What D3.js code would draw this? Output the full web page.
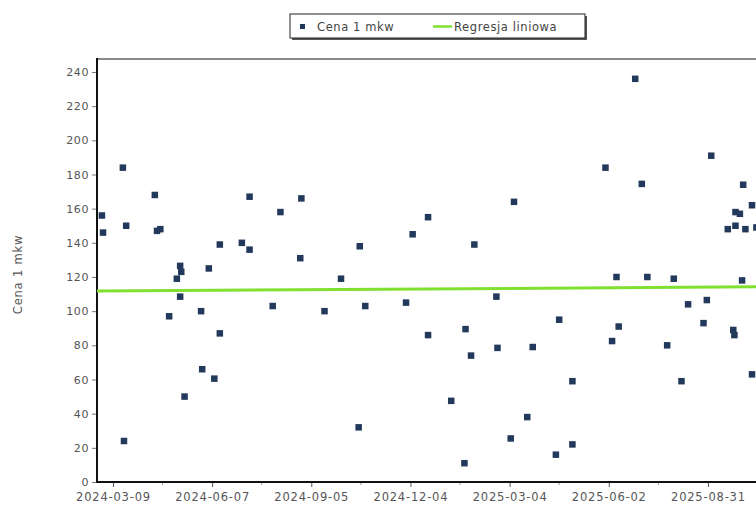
<!DOCTYPE html>
<html>
<head>
<meta charset="utf-8">
<script src="https://cdn.jsdelivr.net/npm/d3@7"></script>
<style>
  body { margin: 0; background: #fff; }
  text { font-family: "DejaVu Sans", sans-serif; }
</style>
</head>
<body>
<div id="chart"></div>
<script>
// transaction dates and price per m2
const dates = [
  "2024-02-28","2024-02-29","2024-03-18","2024-03-19","2024-03-21","2024-04-16","2024-04-18","2024-04-21",
  "2024-04-29","2024-05-06","2024-05-09","2024-05-09","2024-05-10","2024-05-13","2024-05-28","2024-05-29",
  "2024-06-04","2024-06-09","2024-06-14","2024-06-14","2024-07-04","2024-07-11","2024-07-11","2024-08-01",
  "2024-08-08","2024-08-26","2024-08-27","2024-09-17","2024-10-02","2024-10-18","2024-10-19","2024-10-24",
  "2024-11-30","2024-12-06","2024-12-20","2024-12-20","2025-01-10","2025-01-22","2025-01-23","2025-01-28",
  "2025-01-31","2025-02-20","2025-02-21","2025-03-05","2025-03-08","2025-03-20","2025-03-25","2025-04-15",
  "2025-04-18","2025-04-30","2025-04-30","2025-05-30","2025-06-05","2025-06-09","2025-06-11","2025-06-26",
  "2025-07-02","2025-07-07","2025-07-25","2025-07-31","2025-08-07","2025-08-13","2025-08-27","2025-08-30",
  "2025-09-03","2025-09-18","2025-09-23","2025-09-24","2025-09-25","2025-09-25","2025-09-29","2025-10-01",
  "2025-10-02","2025-10-04","2025-10-10","2025-10-10","2025-10-14"
];
const prices = [
  156, 146, 184, 24, 150, 168, 147, 148,
  97, 119, 126.5, 108.5, 123, 50, 100, 66,
  125, 60.5, 139, 87, 140, 167, 136, 103,
  158, 131, 166, 100, 119, 32, 138, 103,
  105, 145, 155, 86, 47.5, 11, 89.5, 74,
  139, 108.5, 78.5, 25.5, 164, 38, 79, 16,
  95, 59, 22, 184, 82.5, 120, 91, 236,
  174.5, 120, 80, 119, 59, 104, 93, 106.5,
  191, 148, 89, 86, 158, 150, 157, 118,
  174, 148, 162, 63, 149
];

// regression line, at the two ends of the x range
const trendValues = [111.8, 114.3];

const xTickDates = ["2024-03-09","2024-06-07","2024-09-05","2024-12-04","2025-03-04","2025-06-02","2025-08-31"];
const yTickValues = [0, 20, 40, 60, 80, 100, 120, 140, 160, 180, 200, 220, 240];
const xDomain = ["2024-02-23T12:30", "2025-10-26T08:00"];
const yDomain = [0, 247.6];

const seriesName = "Cena 1 mkw";
const trendName = "Regresja liniowa";

const width = 756, height = 509;
const plot = {left: 97, right: 770, top: 59, bottom: 482};
const markerColor = "#22395c";
const trendColor = "#80e030";

const parse = d3.timeParse("%Y-%m-%d");
const parseT = d3.timeParse("%Y-%m-%dT%H:%M");
const fmt = d3.timeFormat("%Y-%m-%d");

const points = dates.map((d, i) => ({date: parse(d), value: prices[i]}));

const svg = d3.select("#chart").append("svg")
  .attr("width", width)
  .attr("height", height);

const x = d3.scaleTime()
  .domain(xDomain.map(parseT))
  .range([plot.left, plot.right]);

const y = d3.scaleLinear()
  .domain(yDomain)
  .range([plot.bottom, plot.top]);

// frame top border
svg.append("line")
  .attr("x1", plot.left).attr("x2", plot.right)
  .attr("y1", plot.top).attr("y2", plot.top)
  .attr("stroke", "#8a8a8a").attr("stroke-width", 2);

// y axis
const yAxis = svg.append("g")
  .attr("transform", `translate(${plot.left},0)`)
  .call(d3.axisLeft(y).tickValues(yTickValues).tickSize(5).tickPadding(3).tickSizeOuter(0));
yAxis.select(".domain").remove();
yAxis.selectAll(".tick line").attr("stroke", "#777");
yAxis.selectAll(".tick text")
  .attr("fill", "#555")
  .style("font-size", "11px")
  .style("letter-spacing", "0.6px");

// x axis major ticks
const xTicks = xTickDates.map(parse);
const xAxis = svg.append("g")
  .attr("transform", `translate(0,${plot.bottom})`)
  .call(d3.axisBottom(x).tickValues(xTicks).tickFormat(fmt).tickSize(5).tickPadding(6).tickSizeOuter(0));
xAxis.select(".domain").remove();
xAxis.selectAll(".tick line").attr("stroke", "#555");
xAxis.selectAll(".tick text")
  .attr("fill", "#555")
  .style("font-size", "11.5px")
  .style("letter-spacing", "0.8px");

// minor ticks halfway between labels
const minor = d3.pairs(xTicks).map(([a, b]) => new Date((+a + +b) / 2));
svg.append("g").selectAll("line")
  .data(minor)
  .join("line")
  .attr("x1", d => x(d)).attr("x2", d => x(d))
  .attr("y1", plot.bottom).attr("y2", plot.bottom + 3)
  .attr("stroke", "#999");

// axis lines
svg.append("line")
  .attr("x1", plot.left).attr("x2", plot.left)
  .attr("y1", plot.top - 1).attr("y2", plot.bottom + 1)
  .attr("stroke", "#111").attr("stroke-width", 2);
svg.append("line")
  .attr("x1", plot.left - 1).attr("x2", plot.right)
  .attr("y1", plot.bottom).attr("y2", plot.bottom)
  .attr("stroke", "#111").attr("stroke-width", 2);

// y axis title
svg.append("text")
  .attr("transform", `translate(22,${(plot.top + plot.bottom) / 2 + 4}) rotate(-90)`)
  .attr("text-anchor", "middle")
  .attr("fill", "#555")
  .style("font-size", "11.5px")
  .style("letter-spacing", "0.8px")
  .text(seriesName);

// trend line
const [x0, x1] = x.domain();
svg.append("line")
  .attr("x1", x(x0)).attr("x2", x(x1))
  .attr("y1", y(trendValues[0]))
  .attr("y2", y(trendValues[1]))
  .attr("stroke", trendColor)
  .attr("stroke-width", 3);

// scatter markers
const ms = 6.5;
svg.append("g").selectAll("rect")
  .data(points)
  .join("rect")
  .attr("x", d => x(d.date) - ms / 2)
  .attr("y", d => y(d.value) - ms / 2)
  .attr("width", ms).attr("height", ms)
  .attr("fill", markerColor);

// legend
const lg = svg.append("g").attr("transform", "translate(290,14)");
lg.append("rect").attr("x", 2).attr("y", 2).attr("width", 295).attr("height", 24).attr("fill", "#555");
lg.append("rect").attr("width", 295).attr("height", 24).attr("fill", "#fff").attr("stroke", "#222");
lg.append("rect").attr("x", 10).attr("y", 10).attr("width", 5).attr("height", 5).attr("fill", markerColor);
lg.append("text").attr("x", 27).attr("y", 16.5)
  .attr("fill", "#444").style("font-size", "11.5px").style("letter-spacing", "0.6px").text(seriesName);
lg.append("line").attr("x1", 143).attr("x2", 162).attr("y1", 12.5).attr("y2", 12.5)
  .attr("stroke", trendColor).attr("stroke-width", 2.5);
lg.append("text").attr("x", 164).attr("y", 16.5)
  .attr("fill", "#444").style("font-size", "11.5px").style("letter-spacing", "0.6px").text(trendName);
</script>
</body>
</html>
